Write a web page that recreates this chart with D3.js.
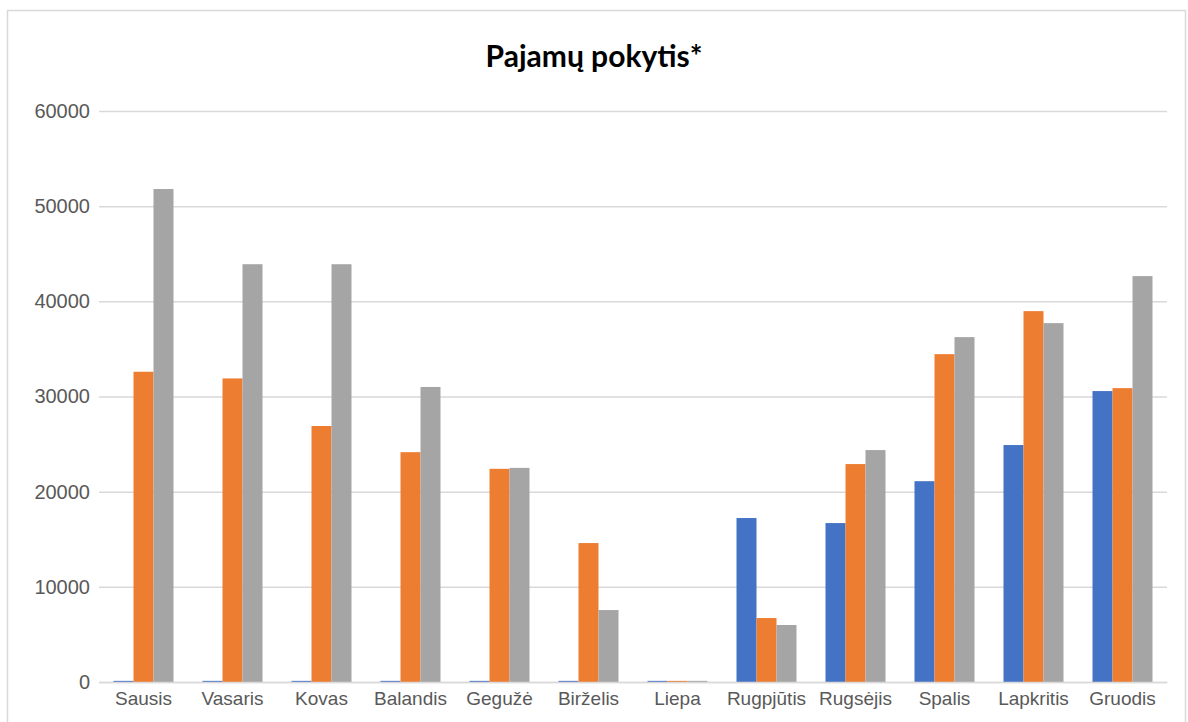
<!DOCTYPE html>
<html><head><meta charset="utf-8">
<script src="https://cdn.jsdelivr.net/npm/d3@7"></script>
<style>body{margin:0;background:#fff;}svg{display:block;font-family:Lato,"Open Sans",sans-serif;}</style>
</head><body>
<svg id="c" width="1188" height="722"></svg>
<script>
const title = "Pajamų pokytis*";
const categories = ["Sausis","Vasaris","Kovas","Balandis","Gegužė","Birželis","Liepa","Rugpjūtis","Rugsėjis","Spalis","Lapkritis","Gruodis"];
const seriesNames = ["S1","S2","S3"];
const seriesColors = ["#4472c4","#ed7d31","#a5a5a5"];
const blueValues   = [120,120,120,120,120,120,120,17230,16700,21100,24900,30570];
const orangeValues = [32600,31900,26900,24150,22400,14600,120,6720,22900,34450,38970,30880];
const grayValues   = [51800,43900,43900,31000,22500,7560,120,5990,24370,36240,37710,42650];
const yTicks = [0,10000,20000,30000,40000,50000,60000];

const seriesValues = [blueValues, orangeValues, grayValues];
const svg = d3.select("#c");
const M = {left:99, right:1167, top:111, bottom:682};

svg.append("rect").attr("x",7.5).attr("y",10.5).attr("width",1178).attr("height",730)
  .attr("fill","#fff").attr("stroke","#d9d9d9").attr("stroke-width",1.5);

const x = d3.scaleBand().domain(categories).range([M.left,M.right]).paddingInner(0).paddingOuter(0);
const xs = d3.scaleBand().domain(seriesNames).range([0,x.bandwidth()]).paddingInner(0).paddingOuter(0.725);
const y = d3.scaleLinear().domain([0,60000]).range([M.bottom,M.top]);

// gridlines
const yAxis = d3.axisLeft(y).tickValues(yTicks).tickSize(-(M.right-M.left)).tickPadding(10).tickFormat(d3.format("d"));
const gy = svg.append("g").attr("transform",`translate(${M.left},0)`).call(yAxis);
gy.select(".domain").remove();
gy.selectAll(".tick line").attr("stroke","#d9d9d9").attr("stroke-width",1.5);
gy.selectAll(".tick text").attr("fill","#595959").attr("font-size",20).attr("x",-9);

// bars
const groups = svg.append("g").selectAll("g").data(categories).join("g")
  .attr("transform",d=>`translate(${x(d)},0)`);
groups.selectAll("rect").data((d,i)=>seriesNames.map((s,j)=>({s, v:seriesValues[j][i], c:seriesColors[j]})))
  .join("rect")
  .attr("x",d=>xs(d.s)).attr("width",xs.bandwidth())
  .attr("y",d=>y(d.v)).attr("height",d=>y(0)-y(d.v))
  .attr("fill",d=>d.c);

// x axis
const xAxis = d3.axisBottom(x).tickSize(0).tickPadding(10);
const gx = svg.append("g").attr("transform",`translate(0,${M.bottom})`).call(xAxis);
gx.select(".domain").attr("stroke","#d9d9d9").attr("stroke-width",1.5);
gx.selectAll(".tick text").attr("fill","#595959").attr("font-size",19);

svg.append("text").attr("x",594).attr("y",67).attr("text-anchor","middle")
  .attr("font-size",30).attr("font-weight","bold").attr("fill","#000").text(title);
</script>
</body></html>
